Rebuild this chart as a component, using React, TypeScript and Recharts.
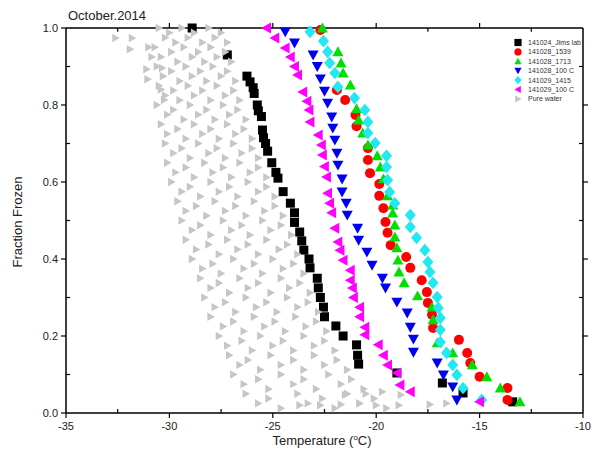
import React from 'react';
import { ScatterChart, Scatter, XAxis, YAxis, ReferenceLine } from 'recharts';

// [temperature °C, fraction frozen]
const jimsLab: [number, number][] = [
  [-28.9, 1.0], [-27.2, 0.93], [-26.25, 0.875], [-26.1, 0.86], [-25.95, 0.845], [-25.9, 0.83],
  [-25.75, 0.8], [-25.7, 0.785], [-25.55, 0.77], [-25.5, 0.735], [-25.45, 0.715], [-25.35, 0.7],
  [-25.25, 0.68], [-25.05, 0.65], [-24.85, 0.625], [-24.75, 0.61], [-24.5, 0.575], [-24.15, 0.545],
  [-23.95, 0.52], [-23.95, 0.495], [-23.7, 0.47], [-23.6, 0.447], [-23.5, 0.423], [-23.25, 0.4],
  [-23.2, 0.377], [-22.85, 0.35], [-22.8, 0.325], [-22.7, 0.3], [-22.55, 0.275], [-22.5, 0.25],
  [-21.95, 0.226], [-21.6, 0.2], [-20.95, 0.177], [-20.9, 0.15], [-20.85, 0.127], [-19.0, 0.104],
  [-16.8, 0.078], [-15.8, 0.052], [-13.4, 0.029],
];

const run1539: [number, number][] = [
  [-22.7, 0.995], [-21.9, 0.839], [-21.5, 0.813], [-21.0, 0.774], [-20.95, 0.745], [-20.4, 0.688],
  [-20.4, 0.657], [-20.3, 0.623], [-19.85, 0.595], [-19.85, 0.564], [-19.65, 0.532], [-19.55, 0.496],
  [-19.45, 0.468], [-19.3, 0.436], [-18.55, 0.405], [-18.35, 0.377], [-17.8, 0.345], [-17.55, 0.314],
  [-17.5, 0.286], [-17.3, 0.255], [-17.25, 0.221], [-16.0, 0.19], [-15.6, 0.156], [-15.45, 0.13],
  [-15.0, 0.094], [-13.65, 0.065], [-13.65, 0.034],
];

const run1713: [number, number][] = [
  [-22.6, 1.0], [-21.85, 0.938], [-21.7, 0.909], [-21.6, 0.883], [-21.25, 0.852], [-20.95, 0.79],
  [-20.85, 0.761], [-20.65, 0.727], [-20.4, 0.696], [-19.95, 0.668], [-19.8, 0.639], [-19.65, 0.608],
  [-19.45, 0.564], [-19.2, 0.54], [-19.2, 0.519], [-19.1, 0.488], [-19.1, 0.457], [-19.0, 0.429],
  [-18.95, 0.397], [-18.9, 0.366], [-18.65, 0.338], [-18.0, 0.304], [-17.3, 0.275], [-17.25, 0.242],
  [-17.05, 0.182], [-16.3, 0.156], [-15.35, 0.125], [-14.65, 0.094], [-14.0, 0.065], [-13.05, 0.029],
];

const run1028hot: [number, number][] = [
  [-24.4, 0.99], [-23.95, 0.961], [-23.05, 0.93], [-22.85, 0.9], [-22.7, 0.868], [-22.5, 0.836],
  [-22.35, 0.805], [-22.15, 0.769], [-22.1, 0.74], [-22.0, 0.709], [-21.9, 0.675], [-21.85, 0.644],
  [-21.65, 0.608], [-21.65, 0.574], [-21.45, 0.545], [-21.4, 0.514], [-20.9, 0.48], [-20.85, 0.449],
  [-20.45, 0.418], [-20.2, 0.384], [-19.7, 0.35], [-19.55, 0.325], [-19.0, 0.288], [-18.5, 0.26],
  [-18.35, 0.223], [-18.2, 0.192], [-18.2, 0.158], [-17.05, 0.13], [-16.75, 0.099], [-16.3, 0.068],
  [-16.1, 0.034],
];

const run1415: [number, number][] = [
  [-23.2, 0.99], [-22.55, 0.966], [-22.35, 0.938], [-22.25, 0.909], [-22.0, 0.883], [-21.85, 0.847],
  [-21.05, 0.818], [-20.55, 0.787], [-20.4, 0.756], [-20.4, 0.727], [-20.05, 0.701], [-19.5, 0.668],
  [-19.5, 0.639], [-19.45, 0.605], [-19.35, 0.574], [-19.1, 0.545], [-18.35, 0.514], [-18.35, 0.483],
  [-18.05, 0.455], [-17.65, 0.423], [-17.5, 0.392], [-17.4, 0.366], [-17.25, 0.338], [-17.05, 0.301],
  [-17.0, 0.273], [-16.9, 0.247], [-16.9, 0.216], [-16.9, 0.184], [-16.6, 0.156], [-16.3, 0.125],
  [-16.1, 0.099], [-15.8, 0.065], [-14.9, 0.034],
];

const run1029hot: [number, number][] = [
  [-25.3, 1.0], [-24.9, 0.974], [-24.4, 0.948], [-24.15, 0.925], [-23.95, 0.9], [-23.8, 0.878],
  [-23.55, 0.834], [-23.35, 0.81], [-23.25, 0.787], [-23.2, 0.756], [-22.8, 0.722], [-22.65, 0.696],
  [-22.6, 0.67], [-22.5, 0.64], [-22.4, 0.613], [-22.35, 0.571], [-22.25, 0.545], [-22.15, 0.52],
  [-22.0, 0.48], [-21.85, 0.444], [-21.75, 0.423], [-21.6, 0.397], [-21.25, 0.371], [-21.25, 0.345],
  [-21.15, 0.325], [-21.1, 0.3], [-20.8, 0.275], [-20.8, 0.25], [-20.55, 0.223], [-20.55, 0.203],
  [-19.9, 0.177], [-19.65, 0.15], [-19.45, 0.125], [-19.0, 0.104], [-18.85, 0.073], [-18.35, 0.055],
  [-15.0, 0.029],
];

// pure water: twelve runs, each on one of four sets of fraction levels
const waterFrac0 = [1.0, 0.95, 0.9, 0.85, 0.8, 0.75, 0.7, 0.65, 0.6, 0.55, 0.5, 0.45, 0.4, 0.35, 0.3, 0.25, 0.2, 0.15, 0.1, 0.05];
const waterFrac1 = [0.9875, 0.9375, 0.8875, 0.8375, 0.7875, 0.7375, 0.6875, 0.6375, 0.5875, 0.5375, 0.4875, 0.4375, 0.3875, 0.3375, 0.2875, 0.2375, 0.1875, 0.1375, 0.0875, 0.0375];
const waterFrac2 = [0.975, 0.925, 0.875, 0.825, 0.775, 0.725, 0.675, 0.625, 0.575, 0.525, 0.475, 0.425, 0.375, 0.325, 0.275, 0.225, 0.175, 0.125, 0.075, 0.025];
const waterFrac3 = [0.9625, 0.9125, 0.8625, 0.8125, 0.7625, 0.7125, 0.6625, 0.6125, 0.5625, 0.5125, 0.4625, 0.4125, 0.3625, 0.3125, 0.2625, 0.2125, 0.1625, 0.1125, 0.0625, 0.0125];

const water01 = [-30.5, -30.7, -30.6, -30.5, -30.6, -30.4, -30.2, -30.1, -29.9, -29.6, -29.4, -29.2, -28.9, -28.5, -28.3, -28.0, -27.6, -27.1, -26.9, -26.3];
const water02 = [-30.2, -30.4, -30.3, -30.2, -30.1, -30.1, -29.8, -29.7, -29.4, -29.2, -28.9, -28.7, -28.4, -28.0, -27.8, -27.4, -27.2, -26.6, -26.4, -25.7];
const water03 = [-30.0, -29.9, -29.9, -29.8, -29.8, -29.6, -29.4, -29.2, -29.0, -28.7, -28.5, -28.1, -27.9, -27.6, -27.3, -26.9, -26.5, -26.2, -25.7, -25.2];
const water04 = [-29.7, -29.6, -29.5, -29.5, -29.3, -29.2, -29.0, -28.8, -28.5, -28.2, -28.0, -27.6, -27.5, -27.1, -26.8, -26.4, -26.0, -25.6, -25.2, -24.6];
const water05 = [-29.4, -29.3, -29.2, -29.1, -29.0, -28.8, -28.6, -28.3, -28.0, -27.8, -27.4, -27.2, -26.9, -26.6, -26.3, -25.9, -25.6, -25.1, -24.6, -23.8];
const water06 = [-29.1, -28.9, -28.9, -28.8, -28.6, -28.4, -28.1, -27.9, -27.6, -27.3, -27.0, -26.7, -26.4, -26.2, -25.8, -25.4, -25.0, -24.6, -24.0, -23.3];
const water07 = [-28.8, -28.6, -28.5, -28.4, -28.2, -28.0, -27.7, -27.4, -27.1, -26.8, -26.5, -26.2, -25.9, -25.7, -25.3, -24.9, -24.5, -24.0, -23.5, -22.6];
const water08 = [-28.4, -28.3, -28.2, -28.0, -27.8, -27.6, -27.3, -27.0, -26.7, -26.3, -26.1, -25.7, -25.5, -25.1, -24.8, -24.4, -24.0, -23.5, -22.9, -22.0];
const water09 = [-28.1, -28.0, -27.9, -27.7, -27.4, -27.2, -26.9, -26.6, -26.2, -25.9, -25.5, -25.3, -25.0, -24.6, -24.3, -23.9, -23.5, -23.0, -22.3, -21.4];
const water10 = [-27.8, -27.7, -27.5, -27.3, -27.1, -26.8, -26.5, -26.1, -25.7, -25.4, -25.1, -24.7, -24.5, -24.2, -23.8, -23.4, -23.0, -22.5, -21.7, -20.8];
const water11 = [-27.5, -27.3, -27.2, -26.9, -26.7, -26.4, -26.0, -25.7, -25.3, -24.9, -24.6, -24.3, -24.0, -23.7, -23.3, -22.9, -22.5, -21.9, -21.2, -20.1];
const water12 = [-27.2, -27.0, -26.8, -26.6, -26.3, -26.0, -25.7, -25.3, -24.9, -24.5, -24.1, -23.8, -23.5, -23.2, -22.8, -22.4, -22.0, -21.4, -20.6, -19.5];

const waterExtra: [number, number][] = [
  [-32.6, 0.974], [-31.8, 0.974], [-31.9, 0.945], [-31.0, 0.95], [-30.85, 0.925], [-31.1, 0.893],
  [-30.35, 0.896], [-31.05, 0.867], [-30.4, 0.84], [-30.25, 0.813],
  [-23.7, 0.02], [-22.7, 0.02], [-21.7, 0.022], [-20.8, 0.025], [-20.0, 0.02], [-18.9, 0.02],
  [-17.4, 0.022], [-16.6, 0.025], [-21.5, 0.047], [-20.5, 0.05], [-19.7, 0.055], [-18.8, 0.047],
];

const xTicks = [-35, -32.5, -30, -27.5, -25, -22.5, -20, -17.5, -15, -12.5, -10];
const yTicks = [0, 0.1, 0.2, 0.3, 0.4, 0.5, 0.6, 0.7, 0.8, 0.9, 1.0];

const toPts = (arr: [number, number][]) => arr.map(([t, f]) => ({ t, f }));
const zipRun = (temps: number[], fracs: number[]) => temps.map((t, i) => ({ t, f: fracs[i] }));

const waterPts = [
  ...zipRun(water01, waterFrac0), ...zipRun(water02, waterFrac2),
  ...zipRun(water03, waterFrac1), ...zipRun(water04, waterFrac3),
  ...zipRun(water05, waterFrac0), ...zipRun(water06, waterFrac2),
  ...zipRun(water07, waterFrac1), ...zipRun(water08, waterFrac3),
  ...zipRun(water09, waterFrac0), ...zipRun(water10, waterFrac2),
  ...zipRun(water11, waterFrac1), ...zipRun(water12, waterFrac3),
  ...toPts(waterExtra),
];

const FONT = '"Liberation Sans", Arial, sans-serif';
const GRAY = '#c6c6c6';

type Kind = 'square' | 'circle' | 'up' | 'down' | 'diamond' | 'left' | 'right';

function Marker({ cx, cy, kind, color, s }: { cx: number; cy: number; kind: Kind; color: string; s: number }) {
  if (cx == null || cy == null) return null;
  if (kind === 'square') return <rect x={cx - s} y={cy - s} width={2 * s} height={2 * s} fill={color} />;
  if (kind === 'circle') return <circle cx={cx} cy={cy} r={s} fill={color} />;
  let pts = '';
  if (kind === 'up') pts = `${cx},${cy - s} ${cx + s},${cy + s * 0.8} ${cx - s},${cy + s * 0.8}`;
  if (kind === 'down') pts = `${cx - s},${cy - s * 0.8} ${cx + s},${cy - s * 0.8} ${cx},${cy + s}`;
  if (kind === 'diamond') pts = `${cx},${cy - s * 1.15} ${cx + s},${cy} ${cx},${cy + s * 1.15} ${cx - s},${cy}`;
  if (kind === 'left') pts = `${cx - s},${cy} ${cx + s * 0.8},${cy - s} ${cx + s * 0.8},${cy + s}`;
  if (kind === 'right') pts = `${cx + s},${cy} ${cx - s * 0.8},${cy - s} ${cx - s * 0.8},${cy + s}`;
  return <polygon points={pts} fill={color} />;
}

const series: { name: string; data: [number, number][]; kind: Kind; color: string; s: number }[] = [
  { name: '141024_Jims lab', data: jimsLab, kind: 'square', color: '#000000', s: 4.5 },
  { name: '141028_1539', data: run1539, kind: 'circle', color: '#ff0000', s: 5 },
  { name: '141028_1713', data: run1713, kind: 'up', color: '#00e000', s: 5.5 },
  { name: '141028_100 C', data: run1028hot, kind: 'down', color: '#0000f0', s: 5.5 },
  { name: '141029_1415', data: run1415, kind: 'diamond', color: '#22e8f0', s: 5.5 },
  { name: '141029_100 C', data: run1029hot, kind: 'left', color: '#ff00ff', s: 5.5 },
];

const isMajorX = (v: number) => Math.abs(v % 5) < 1e-6;
const isMajorY = (v: number) => Math.round(v * 10) % 2 === 0;

function XTick({ x, y, payload }: any) {
  const v = payload.value;
  const major = isMajorX(v);
  return (
    <g>
      <line x1={x} x2={x} y1={y} y2={major ? y + 5 : y - 4} stroke="#000" strokeWidth={1.2} />
      {major && (
        <text x={x} y={y + 17} textAnchor="middle" fontSize={11} fill="#222" fontFamily={FONT}>{v}</text>
      )}
    </g>
  );
}

function YTick({ x, y, payload }: any) {
  const v = payload.value;
  const major = isMajorY(v);
  return (
    <g>
      <line x1={x} x2={major ? x - 5 : x + 4} y1={y} y2={y} stroke="#000" strokeWidth={1.2} />
      {major && (
        <text x={x - 8} y={y + 4} textAnchor="end" fontSize={11} fill="#222" fontFamily={FONT}>{v.toFixed(1)}</text>
      )}
    </g>
  );
}

export default function App() {
  return (
    <div style={{ position: 'relative', width: 592, height: 450, fontFamily: FONT }}>
      <ScatterChart width={592} height={450} margin={{ top: 20, right: 17, bottom: 0, left: 0 }}>
        <XAxis
          dataKey="t" type="number" domain={[-35, -10]} ticks={xTicks} height={45}
          tickSize={0} tickMargin={0} tick={<XTick />} axisLine={{ stroke: '#000', strokeWidth: 1.5 }} tickLine={false}
        />
        <YAxis
          dataKey="f" type="number" domain={[0, 1]} ticks={yTicks} width={58}
          tickSize={0} tickMargin={0} tick={<YTick />} axisLine={{ stroke: '#000', strokeWidth: 1.5 }} tickLine={false}
        />
        {series.map((s) => (
          <Scatter
            key={s.name}
            name={s.name}
            data={toPts(s.data)}
            isAnimationActive={false}
            shape={(p: any) => <Marker cx={p.cx} cy={p.cy} kind={s.kind} color={s.color} s={s.s} />}
          />
        ))}
        <Scatter
          name="Pure water"
          data={waterPts}
          isAnimationActive={false}
          shape={(p: any) => <Marker cx={p.cx} cy={p.cy} kind="right" color={GRAY} s={4.2} />}
        />
        {/* box: top and right frame with their ticks */}
        <ReferenceLine y={1} stroke="#000" strokeWidth={1.5} ifOverflow="visible" />
        <ReferenceLine x={-10} stroke="#000" strokeWidth={1.5} ifOverflow="visible" />
        {xTicks.slice(1, -1).map((v) => (
          <ReferenceLine
            key={`tx${v}`}
            segment={isMajorX(v) ? [{ x: v, y: 1 }, { x: v, y: 1.013 }] : [{ x: v, y: 1 }, { x: v, y: 0.99 }]}
            stroke="#000" strokeWidth={1.2} ifOverflow="visible"
          />
        ))}
        {yTicks.slice(1, -1).map((v) => (
          <ReferenceLine
            key={`ty${v}`}
            segment={isMajorY(v) ? [{ x: -10, y: v }, { x: -9.76, y: v }] : [{ x: -10, y: v }, { x: -10.19, y: v }]}
            stroke="#000" strokeWidth={1.2} ifOverflow="visible"
          />
        ))}
      </ScatterChart>

      <svg width={592} height={450} style={{ position: 'absolute', left: 0, top: 0, pointerEvents: 'none' }}>
        <text x={60} y={12} fontSize={13} fill="#222" fontFamily={FONT}>October.2014</text>
        <text x={314} y={437} textAnchor="middle" fontSize={13} fill="#222" fontFamily={FONT}>
          Temperature (<tspan dy={-5} fontSize={8}>o</tspan><tspan dy={5}>C)</tspan>
        </text>
        <text
          x={14} y={214} textAnchor="middle" fontSize={13} fill="#222" fontFamily={FONT}
          transform="rotate(-90 14 214)"
        >
          Fraction Frozen
        </text>
        {[...series, { name: 'Pure water', kind: 'right' as Kind, color: GRAY, s: 4 }].map((s, i) => (
          <g key={s.name}>
            <Marker cx={510} cy={34.5 + i * 9.4} kind={s.kind} color={s.color} s={3.6} />
            <text x={520} y={37 + i * 9.4} fontSize={7} fill="#333" fontFamily={FONT}>{s.name}</text>
          </g>
        ))}
      </svg>
    </div>
  );
}
